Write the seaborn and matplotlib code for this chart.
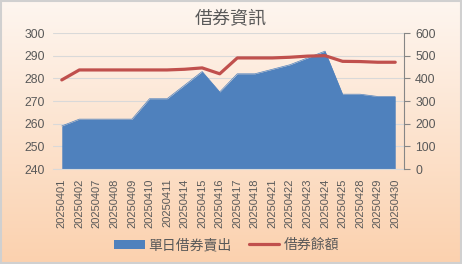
import numpy as np
import pandas as pd
import matplotlib
matplotlib.use("Agg")
import matplotlib.pyplot as plt
from matplotlib.patches import Rectangle, Patch
from matplotlib.lines import Line2D
from matplotlib.colors import LinearSegmentedColormap
import seaborn as sns

dates = ["20250401", "20250402", "20250407", "20250408", "20250409", "20250410",
         "20250411", "20250414", "20250415", "20250416", "20250417", "20250418",
         "20250421", "20250422", "20250423", "20250424", "20250425", "20250428",
         "20250429", "20250430"]
daily_sell = [259, 262, 262, 262, 262, 271, 271, 277, 283, 274, 282, 282,
              284, 286, 289, 292, 273, 273, 272, 272]
balance = [393, 437, 437, 437, 437, 437, 437, 440, 446, 420, 490, 490,
           490, 493, 498, 500, 475, 474, 471, 471]
title = "借券資訊"
label_area = "單日借券賣出"
label_line = "借券餘額"

sns.set_theme(style="white")
plt.rcParams["font.family"] = ["Liberation Sans", "Noto Sans CJK TC", "DejaVu Sans"]

df = pd.DataFrame({"date": dates, "pos": np.arange(len(dates)),
                   "sell": daily_sell, "bal": balance})

fig = plt.figure(figsize=(4.62, 2.64), dpi=100)

# gradient background
bg = fig.add_axes([0, 0, 1, 1], zorder=-10)
cmap = LinearSegmentedColormap.from_list("bg", ["#fef6f0", "#fbd1ae"])
grad = np.linspace(0, 1, 256).reshape(-1, 1)
bg.imshow(grad, aspect="auto", cmap=cmap, extent=[0, 1, 0, 1], origin="upper")
bg.add_patch(Rectangle((0.002, 0.003), 0.996, 0.994, transform=bg.transAxes,
                       fill=False, edgecolor="#d0d0d0", linewidth=1.5))
bg.set_xlim(0, 1); bg.set_ylim(0, 1)
bg.axis("off")

ax = fig.add_axes([53/462, 1 - 169/264, (404 - 53)/462, (169 - 33)/264])
ax.set_facecolor("none")
ax.fill_between(df["pos"], df["sell"], 240, color="#4f81bd", linewidth=0, zorder=2)
sns.lineplot(data=df, x="pos", y="sell", ax=ax, color="#4f81bd", linewidth=0.5, zorder=2)
ax.set_ylim(240, 300)
ax.set_yticks(np.arange(240, 301, 10))
ax.set_xlim(-0.5, len(dates) - 0.5)
ax.set_xticks(df["pos"])
ax.set_xticklabels(dates, rotation=90, fontsize=8, color="#595959")
ax.set_xticks(np.arange(-0.5, len(dates)), minor=True)
ax.tick_params(axis="x", which="major", length=0, pad=7)
ax.tick_params(axis="x", which="minor", length=4, color="#d9d9d9", width=0.8)
ax.tick_params(axis="y", length=0, labelsize=8.8, labelcolor="#595959", pad=6)
ax.grid(axis="y", color="#d9d9d9", linewidth=0.8, zorder=0)
ax.set_axisbelow(True)
for s in ["left", "top", "right"]:
    ax.spines[s].set_visible(False)
ax.spines["bottom"].set_color("#d9d9d9")
ax.spines["bottom"].set_linewidth(0.8)
ax.set_xlabel("")
ax.set_ylabel("")

ax2 = ax.twinx()
ax2.set_facecolor("none")
sns.lineplot(data=df, x="pos", y="bal", ax=ax2, color="#c0504d", linewidth=2.3, zorder=3)
ax2.set_ylim(0, 600)
ax2.set_yticks(np.arange(0, 601, 100))
ax2.set_xlim(-0.5, len(dates) - 0.5)
ax2.tick_params(axis="y", length=4, width=0.8, color="#868686", labelsize=8.8,
                labelcolor="#595959", pad=4, direction="out")
for s in ["left", "top", "bottom"]:
    ax2.spines[s].set_visible(False)
ax2.spines["right"].set_color("#868686")
ax2.spines["right"].set_linewidth(0.8)
ax2.set_ylabel("")
ax2.set_xlabel("")
ax2.grid(False)

fig.text(0.5, 1 - 20/264, title, ha="center", va="center", fontsize=13,
         color="#595959")

handles = [Patch(facecolor="#4f81bd", edgecolor="none"),
           Line2D([0], [0], color="#c0504d", linewidth=2.3)]
fig.legend(handles, [label_area, label_line], loc="center",
           bbox_to_anchor=(0.49, 1 - 245/264), ncol=2, frameon=False,
           fontsize=10, labelcolor="#595959", handlelength=2.2, handleheight=0.6,
           handletextpad=0.3, columnspacing=1.2)

fig.savefig("out.png", dpi=100)
